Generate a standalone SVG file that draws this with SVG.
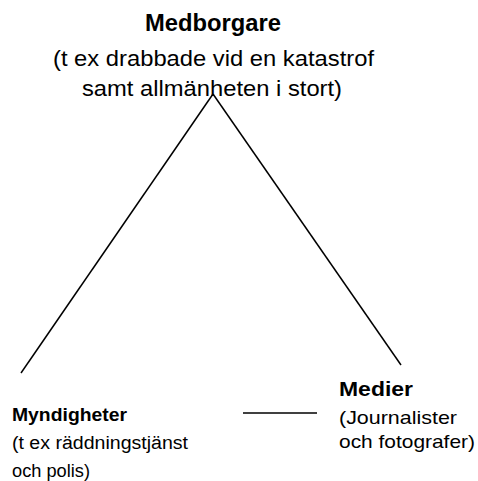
<svg xmlns="http://www.w3.org/2000/svg" width="478" height="481" viewBox="0 0 478 481">
<style>
text{font-family:"Liberation Sans",Arial,sans-serif;fill:#000}
.b{font-weight:bold}
line{stroke:#000;stroke-width:1.5}
</style>
<rect width="478" height="481" fill="#fff"/>
<g id="connectors">
<line x1="213" y1="94" x2="21" y2="373"/>
<line x1="213" y1="94" x2="401" y2="365"/>
<line x1="243" y1="413" x2="317" y2="413"/>
</g>
<g id="medborgare">
<text x="145" y="31" class="b" font-size="23" textLength="136" lengthAdjust="spacingAndGlyphs">Medborgare</text>
<text x="53" y="66" font-size="22" textLength="321" lengthAdjust="spacingAndGlyphs">(t ex drabbade vid en katastrof</text>
<text x="82" y="96" font-size="22" textLength="260" lengthAdjust="spacingAndGlyphs">samt allmänheten i stort)</text>
</g>
<g id="myndigheter">
<text x="12" y="421" class="b" font-size="18" textLength="115" lengthAdjust="spacingAndGlyphs">Myndigheter</text>
<text x="12" y="449" font-size="18" textLength="176" lengthAdjust="spacingAndGlyphs">(t ex räddningstjänst</text>
<text x="12" y="477" font-size="18" textLength="78" lengthAdjust="spacingAndGlyphs">och polis)</text>
</g>
<g id="medier">
<text x="339" y="396" class="b" font-size="21" textLength="74" lengthAdjust="spacingAndGlyphs">Medier</text>
<text x="339" y="424" font-size="19" textLength="118" lengthAdjust="spacingAndGlyphs">(Journalister</text>
<text x="339" y="448" font-size="19" textLength="136" lengthAdjust="spacingAndGlyphs">och fotografer)</text>
</g>
</svg>
